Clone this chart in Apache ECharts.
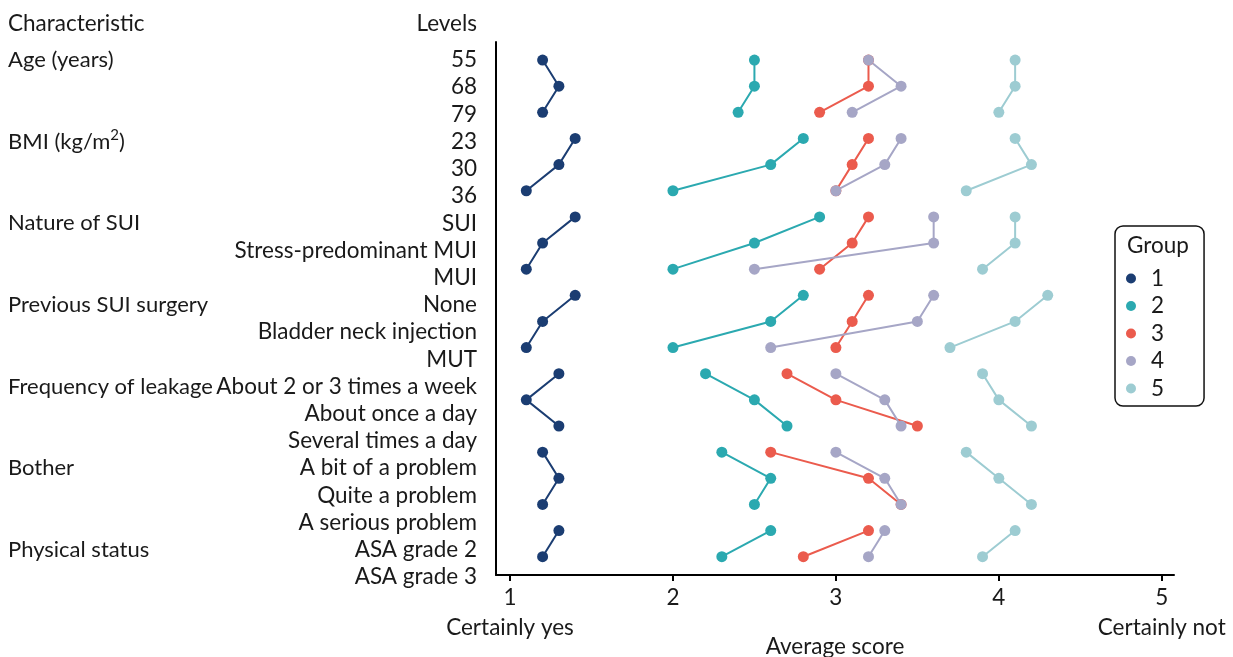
<!DOCTYPE html>
<html>
<head>
<meta charset="utf-8">
<script src="https://cdn.jsdelivr.net/npm/echarts@6/dist/echarts.min.js"></script>
<style>html,body{margin:0;padding:0;background:#fff}#c{width:1233px;height:657px}</style>
</head>
<body>
<div id="c"></div>
<script>
// ---- data ----
const characteristics = ['Age (years)', 'BMI (kg/m²)', 'Nature of SUI', 'Previous SUI surgery', 'Frequency of leakage', 'Bother', 'Physical status'];
const blockSizes = [3, 3, 3, 3, 3, 3, 2];
const levels = ['55', '68', '79', '23', '30', '36', 'SUI', 'Stress-predominant MUI', 'MUI', 'None',
  'Bladder neck injection', 'MUT', 'About 2 or 3 times a week', 'About once a day', 'Several times a day',
  'A bit of a problem', 'Quite a problem', 'A serious problem', 'ASA grade 2', 'ASA grade 3'];
const groupNames = ['1', '2', '3', '4', '5'];
const group1 = [1.2, 1.3, 1.2, 1.4, 1.3, 1.1, 1.4, 1.2, 1.1, 1.4, 1.2, 1.1, 1.3, 1.1, 1.3, 1.2, 1.3, 1.2, 1.3, 1.2];
const group2 = [2.5, 2.5, 2.4, 2.8, 2.6, 2.0, 2.9, 2.5, 2.0, 2.8, 2.6, 2.0, 2.2, 2.5, 2.7, 2.3, 2.6, 2.5, 2.6, 2.3];
const group3 = [3.2, 3.2, 2.9, 3.2, 3.1, 3.0, 3.2, 3.1, 2.9, 3.2, 3.1, 3.0, 2.7, 3.0, 3.5, 2.6, 3.2, 3.4, 3.2, 2.8];
const group4 = [3.2, 3.4, 3.1, 3.4, 3.3, 3.0, 3.6, 3.6, 2.5, 3.6, 3.5, 2.6, 3.0, 3.3, 3.4, 3.0, 3.3, 3.4, 3.3, 3.2];
const group5 = [4.1, 4.1, 4.0, 4.1, 4.2, 3.8, 4.1, 4.1, 3.9, 4.3, 4.1, 3.7, 3.9, 4.0, 4.2, 3.8, 4.0, 4.2, 4.1, 3.9];
const xTicks = [1, 2, 3, 4, 5];
const xTickNotes = {1: 'Certainly yes', 5: 'Certainly not'};

// ---- build ----
const groupValues = [group1, group2, group3, group4, group5];
const colors = ['#1b3d72', '#2ba9b0', '#eb5b4d', '#a6a6c6', '#9dccd2'];
const FONT = 'Lato';
const FS = 22.5;
const TXT = '#1a1a1a';

const charLabels = [];
blockSizes.forEach((n, b) => { for (let i = 0; i < n; i++) charLabels.push(i === 0 ? characteristics[b] : ''); });

const series = [];
groupValues.forEach((vals, g) => {
  let start = 0;
  blockSizes.forEach(n => {
    const data = [];
    for (let i = start; i < start + n; i++) data.push([vals[i], i]);
    series.push({
      type: 'line', name: groupNames[g], xAxisIndex: 0, yAxisIndex: 0,
      data, symbol: 'circle', symbolSize: 11, showSymbol: true,
      color: colors[g],
      itemStyle: {color: colors[g]},
      lineStyle: {color: colors[g], width: 2},
      emphasis: {disabled: true}, animation: false
    });
    start += n;
  });
});

const chart = echarts.init(document.getElementById('c'), null, {renderer: 'canvas'});
chart.setOption({
  animation: false,
  textStyle: {fontFamily: FONT, color: TXT},
  title: [
    {text: 'Characteristic', left: 8, top: 12, padding: 0, textStyle: {fontFamily: FONT, fontSize: FS, fontWeight: 'normal', color: TXT}},
    {text: 'Levels', right: 756, top: 12, padding: 0, textStyle: {fontFamily: FONT, fontSize: FS, fontWeight: 'normal', color: TXT}},
    {text: 'Group', left: 1127, top: 234, padding: 0, textStyle: {fontFamily: FONT, fontSize: FS, fontWeight: 'normal', color: TXT}}
  ],
  legend: {
    data: groupNames, orient: 'vertical', left: 1115, top: 226,
    padding: [41, 40, 6, 11], itemGap: 4.5, itemWidth: 10, itemHeight: 10, icon: 'circle',
    borderColor: '#111', borderWidth: 1.5, borderRadius: 8,
    textStyle: {fontFamily: FONT, fontSize: FS, color: TXT, padding: [0, 0, 0, 10]},
    selectedMode: false
  },
  grid: [
    {left: 496, right: 59, top: 42, bottom: 82, outerBoundsMode: 'none', containLabel: false},
    {left: 484, width: 1, top: 46.4, bottom: 66.4, outerBoundsMode: 'none', containLabel: false}
  ],
  xAxis: [
    {
      type: 'value', gridIndex: 0, min: 0.914, max: 5.075,
      splitLine: {show: false},
      axisLine: {show: true, onZero: false, lineStyle: {color: '#000', width: 2}},
      axisTick: {show: true, customValues: xTicks, length: 6, lineStyle: {color: '#000', width: 2}},
      axisLabel: {
        customValues: xTicks, margin: 8, fontFamily: FONT, fontSize: FS, color: TXT, lineHeight: 30,
        formatter: v => xTickNotes[v] ? v + '\n' + xTickNotes[v] : String(v)
      },
      name: 'Average score', nameLocation: 'middle', nameGap: 60, nameMoveOverlap: false,
      nameTextStyle: {fontFamily: FONT, fontSize: FS, color: TXT}
    },
    {type: 'value', gridIndex: 1, min: 0, max: 1, show: false}
  ],
  yAxis: [
    {
      type: 'value', gridIndex: 0, inverse: true, min: -0.69, max: 19.7,
      splitLine: {show: false}, axisTick: {show: false}, axisLabel: {show: false},
      axisLine: {show: true, onZero: false, lineStyle: {color: '#000', width: 2}}
    },
    {
      type: 'category', gridIndex: 1, inverse: true, data: levels, position: 'left',
      axisLine: {show: false}, axisTick: {show: false}, splitLine: {show: false},
      axisLabel: {interval: 0, margin: 7, fontFamily: FONT, fontSize: FS, color: TXT}
    },
    {
      type: 'category', gridIndex: 1, inverse: true, data: charLabels, position: 'left',
      axisLine: {show: false}, axisTick: {show: false}, splitLine: {show: false},
      axisLabel: {
        interval: 0, margin: 476, align: 'left', fontFamily: FONT, fontSize: 22, color: TXT,
        formatter: v => v.indexOf('²') >= 0 ? '{n|' + v.replace('²', '}{s|2}{n|') + '}' : v,
        rich: {
          n: {fontFamily: FONT, fontSize: 22, color: TXT},
          s: {fontFamily: FONT, fontSize: 15, color: TXT, padding: [0, 0, 12, 0]}
        }
      }
    }
  ],
  series
});
</script>
</body>
</html>
